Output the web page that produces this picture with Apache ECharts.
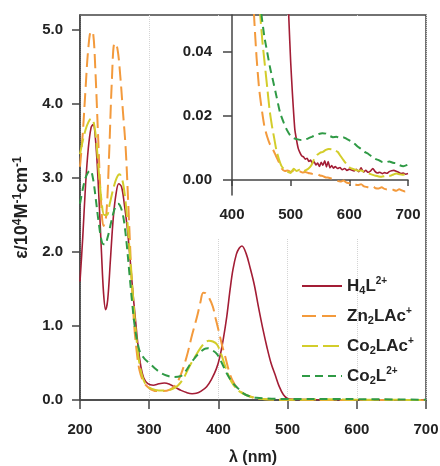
<!DOCTYPE html>
<html>
<head>
<meta charset="utf-8">
<script src="https://cdn.jsdelivr.net/npm/echarts@6/dist/echarts.min.js"></script>
<style>
  html, body { margin: 0; padding: 0; background: #fff; }
  #chart { width: 440px; height: 466px; }
</style>
</head>
<body>
<div id="chart"></div>
<script>
// series names (legend order)
var names = ["H4L2+", "Zn2LAc+", "Co2LAc+", "Co2L2+"];
var legendLabels = [
  "{b|H}{sub|4}{b|L}{sup|2+}",
  "{b|Zn}{sub|2}{b|LAc}{sup|+}",
  "{b|Co}{sub|2}{b|LAc}{sup|+}",
  "{b|Co}{sub|2}{b|L}{sup|2+}"
];

// main panel: [wavelength nm, eps / 1e4]
var h4lMain = [[200,1.6],[204,2.2],[208,2.9],[212,3.4],[216,3.68],[219,3.72],[223,3.45],[227,2.8],[231,2.0],[234,1.45],[237,1.22],[240,1.35],[244,1.9],[248,2.45],[252,2.78],[256,2.92],[260,2.88],[264,2.65],[268,2.35],[272,1.95],[276,1.5],[280,1.1],[284,0.72],[288,0.45],[292,0.3],[298,0.22],[306,0.2],[314,0.22],[322,0.23],[330,0.21],[338,0.17],[346,0.13],[354,0.1],[362,0.085],[368,0.09],[375,0.12],[383,0.18],[390,0.28],[397,0.42],[402,0.58],[407,0.82],[412,1.12],[417,1.5],[421,1.76],[426,1.97],[430,2.05],[434,2.08],[440,1.98],[446,1.78],[452,1.55],[458,1.25],[464,0.97],[470,0.72],[476,0.5],[482,0.34],[488,0.18],[494,0.07],[500,0.02],[510,0.01],[540,0.005],[620,0.003],[700,0.002]];
var zn2Main = [[200,3.15],[204,3.6],[208,4.2],[212,4.75],[216,4.98],[219,4.95],[222,4.5],[226,3.6],[230,2.75],[234,2.35],[238,2.5],[242,3.3],[246,4.3],[250,4.82],[254,4.75],[258,4.4],[262,3.9],[266,3.4],[270,2.6],[274,1.75],[278,1.05],[282,0.65],[286,0.4],[292,0.24],[300,0.16],[310,0.12],[320,0.12],[330,0.14],[338,0.2],[346,0.35],[354,0.58],[362,0.88],[369,1.12],[374,1.32],[378,1.45],[382,1.44],[387,1.37],[392,1.26],[396,1.1],[400,0.95],[405,0.75],[410,0.58],[415,0.4],[420,0.27],[428,0.15],[436,0.09],[445,0.05],[455,0.025],[470,0.01],[500,0.003],[600,0.0],[700,-0.003]];
var co2lacMain = [[200,3.32],[204,3.5],[208,3.65],[212,3.75],[216,3.8],[219,3.78],[223,3.55],[227,3.1],[231,2.7],[235,2.5],[239,2.5],[243,2.65],[248,2.85],[253,3.0],[257,3.05],[261,2.98],[265,2.75],[269,2.35],[273,1.85],[277,1.35],[281,0.9],[285,0.55],[290,0.32],[296,0.2],[304,0.15],[314,0.13],[324,0.13],[334,0.15],[342,0.2],[350,0.3],[358,0.45],[366,0.58],[374,0.7],[380,0.77],[386,0.8],[392,0.79],[398,0.75],[404,0.62],[410,0.45],[416,0.3],[422,0.2],[430,0.12],[440,0.065],[450,0.035],[460,0.018],[475,0.008],[500,0.003],[560,0.009],[600,0.003],[700,0.0015]];
var co2lMain = [[200,2.65],[204,2.85],[208,3.0],[212,3.08],[215,3.1],[219,2.98],[223,2.7],[227,2.4],[232,2.12],[236,2.1],[240,2.2],[245,2.4],[250,2.58],[255,2.65],[259,2.6],[263,2.45],[267,2.15],[271,1.75],[275,1.35],[279,1.0],[283,0.78],[287,0.64],[293,0.56],[300,0.5],[308,0.43],[316,0.37],[325,0.33],[335,0.31],[345,0.32],[352,0.38],[359,0.48],[366,0.57],[373,0.64],[380,0.69],[385,0.7],[390,0.68],[398,0.62],[405,0.5],[412,0.36],[420,0.24],[428,0.16],[436,0.09],[445,0.05],[455,0.03],[470,0.02],[490,0.014],[520,0.0125],[560,0.014],[620,0.01],[700,0.004]];

// inset panel: [wavelength nm, eps / 1e4]
var h4lInset = [[494,0.065],[497,0.05],[500,0.037],[503,0.027],[507,0.016],[510,0.0125],[513,0.0098],[516,0.0085],[519,0.0075],[522,0.0072],[525,0.0065],[528,0.0068],[531,0.0058],[534,0.0062],[537,0.0052],[540,0.0057],[543,0.0047],[546,0.0053],[549,0.0042],[552,0.0055],[555,0.0046],[558,0.006],[561,0.0041],[564,0.0058],[567,0.0038],[570,0.0045],[573,0.0037],[576,0.0042],[580,0.0036],[584,0.0039],[588,0.0032],[592,0.0036],[596,0.003],[600,0.0034],[604,0.0031],[608,0.0028],[612,0.0033],[616,0.0026],[620,0.0038],[624,0.0025],[628,0.003],[632,0.0024],[636,0.0028],[640,0.0036],[644,0.0026],[648,0.0022],[652,0.0024],[656,0.002],[660,0.0023],[664,0.0021],[668,0.0026],[672,0.0029],[676,0.003],[680,0.0027],[684,0.0024],[688,0.002],[692,0.0022],[696,0.0018],[700,0.002]];
var zn2Inset = [[430,0.09],[434,0.065],[438,0.05],[442,0.038],[446,0.029],[450,0.023],[455,0.017],[460,0.0135],[465,0.011],[470,0.0095],[475,0.0075],[480,0.0055],[485,0.0035],[490,0.0028],[495,0.003],[500,0.0026],[505,0.0028],[510,0.0024],[515,0.0027],[520,0.0023],[525,0.0025],[530,0.0022],[535,0.002],[540,0.0017],[545,0.0019],[550,0.0014],[555,0.0012],[560,0.0008],[565,0.0007],[570,0.0004],[575,0.0002],[580,-0.0003],[585,-0.0005],[590,-0.0002],[595,-0.0008],[600,-0.001],[605,-0.0007],[610,-0.0014],[615,-0.0016],[620,-0.0013],[625,-0.002],[630,-0.0022],[635,-0.0024],[640,-0.002],[645,-0.0026],[650,-0.0027],[655,-0.0023],[660,-0.0028],[665,-0.003],[670,-0.0027],[675,-0.0031],[680,-0.0034],[685,-0.0029],[690,-0.0033],[695,-0.0036],[700,-0.0035]];
var co2lacInset = [[440,0.08],[444,0.065],[448,0.052],[452,0.043],[456,0.036],[460,0.029],[464,0.022],[468,0.017],[472,0.013],[476,0.009],[480,0.0065],[484,0.0045],[488,0.0035],[492,0.0028],[496,0.0025],[500,0.0022],[505,0.0035],[510,0.0028],[515,0.0032],[520,0.0026],[525,0.003],[530,0.0035],[535,0.0045],[540,0.0065],[545,0.0078],[550,0.0085],[555,0.0088],[560,0.0094],[565,0.0097],[570,0.0096],[575,0.0093],[580,0.0088],[585,0.0075],[590,0.0062],[595,0.005],[600,0.004],[605,0.0035],[610,0.0032],[615,0.0029],[620,0.003],[625,0.0026],[630,0.0022],[635,0.0019],[640,0.0016],[645,0.0013],[650,0.0011],[655,0.001],[660,0.0012],[665,0.0014],[670,0.0013],[675,0.0017],[680,0.002],[685,0.0018],[690,0.0016],[695,0.0017],[700,0.0015]];
var co2lInset = [[445,0.06],[450,0.052],[455,0.045],[460,0.04],[465,0.035],[470,0.031],[476,0.026],[482,0.021],[488,0.018],[494,0.0155],[500,0.0137],[506,0.013],[512,0.0127],[518,0.0125],[524,0.0126],[530,0.013],[536,0.0135],[542,0.014],[548,0.0144],[554,0.0146],[560,0.0145],[566,0.0138],[572,0.0134],[578,0.0135],[584,0.0131],[590,0.0133],[596,0.0128],[602,0.0122],[608,0.0115],[614,0.0105],[620,0.0097],[626,0.0088],[632,0.0082],[638,0.0074],[644,0.0066],[650,0.0062],[656,0.0056],[662,0.0055],[668,0.0058],[674,0.0054],[680,0.0052],[686,0.0046],[692,0.0043],[700,0.0048]];

// ticks
var mainYTicks = [0, 1, 2, 3, 4, 5];
var insetYTicks = [0, 0.02, 0.04];

var colors = ["#a31d35", "#f39a3c", "#d3cd2b", "#2f9a45"];
var dashes = ["solid", [14, 6], [16, 5], [8, 5]];
var widths = [1.6, 2, 2, 2];
var mainData = [h4lMain, zn2Main, co2lacMain, co2lMain];
var insetData = [h4lInset, zn2Inset, co2lacInset, co2lInset];

var font = "Liberation Sans";
var axisColor = "#444";

var series = [];
// main curves
for (var i = 0; i < 4; i++) {
  series.push({
    name: names[i],
    type: "line",
    xAxisIndex: 0,
    yAxisIndex: 0,
    data: mainData[i],
    smooth: 0.35,
    symbol: "none",
    lineStyle: { color: colors[i], width: widths[i], type: dashes[i] },
    itemStyle: { color: colors[i] }
  });
}
// inset curves
for (var j = 0; j < 4; j++) {
  series.push({
    name: names[j],
    type: "line",
    xAxisIndex: 1,
    yAxisIndex: 1,
    z: 10,
    data: insetData[j],
    smooth: 0.2,
    symbol: "none",
    lineStyle: { color: colors[j], width: widths[j], type: dashes[j] },
    itemStyle: { color: colors[j] }
  });
}

var supStyle = { fontSize: 10, fontWeight: "bold", fontFamily: font, color: "#222", verticalAlign: "top", lineHeight: 20 };
var subStyle = { fontSize: 11, fontWeight: "bold", fontFamily: font, color: "#222", verticalAlign: "bottom", lineHeight: 20 };

var chart = echarts.init(document.getElementById("chart"));
var option = {
  animation: false,
  backgroundColor: "#fff",
  textStyle: { fontFamily: font },
  grid: [
    { left: 80, right: 14, top: 15, bottom: 66, outerBoundsMode: "none", show: true, borderColor: axisColor, borderWidth: 1.5, backgroundColor: "transparent" },
    { left: 232, right: 32, top: 15, bottom: 271, outerBoundsMode: "none" }
  ],
  graphic: {
    elements: [
      {
        type: "rect",
        z: 5,
        shape: { x: 166, y: 16.5, width: 258.5, height: 222 },
        style: { fill: "#fff" },
        silent: true
      }
    ]
  },
  legend: {
    orient: "vertical",
    left: 296,
    top: 271,
    itemWidth: 40,
    itemHeight: 14,
    itemGap: 10,
    data: names,
    itemStyle: { opacity: 0 },
    formatter: function (name) {
      return legendLabels[names.indexOf(name)];
    },
    textStyle: {
      color: "#222",
      fontSize: 17,
      fontWeight: "bold",
      fontFamily: font,
      lineHeight: 20,
      rich: {
        b: { fontSize: 17, fontWeight: "bold", fontFamily: font, color: "#222", lineHeight: 20 },
        sub: subStyle,
        sup: supStyle
      }
    }
  },
  xAxis: [
    {
      type: "value",
      gridIndex: 0,
      min: 200,
      max: 700,
      interval: 100,
      name: "λ (nm)",
      nameLocation: "middle",
      nameGap: 50,
      nameTextStyle: { fontSize: 16, fontWeight: "bold", color: "#222", fontFamily: font },
      axisLine: { lineStyle: { color: axisColor, width: 1.5 } },
      axisTick: { length: 9, lineStyle: { color: axisColor, width: 1.5 } },
      axisLabel: { fontSize: 15, fontWeight: "bold", color: "#222", margin: 22 },
      splitLine: { show: true, lineStyle: { color: "#d4d4d4", type: "dotted", width: 1 } }
    },
    {
      type: "value",
      gridIndex: 1,
      min: 400,
      max: 700,
      interval: 100,
      z: 10,
      axisLine: { lineStyle: { color: axisColor, width: 1.5 } },
      axisTick: { length: 6, lineStyle: { color: axisColor, width: 1.5 } },
      axisLabel: { fontSize: 15, fontWeight: "bold", color: "#222", margin: 12 },
      splitLine: { show: false }
    }
  ],
  yAxis: [
    {
      type: "value",
      gridIndex: 0,
      min: 0,
      max: 5.2,
      name: "{t|ε/10}{sup|4}{t|M}{sup|-1}{t|cm}{sup|-1}",
      nameLocation: "middle",
      nameGap: 40,
      nameTextStyle: {
        rich: {
          t: { fontSize: 18, fontWeight: "bold", color: "#222", fontFamily: font, lineHeight: 22 },
          sup: { fontSize: 12, fontWeight: "bold", fontFamily: font, color: "#222", verticalAlign: "top", lineHeight: 22 }
        }
      },
      axisLine: { show: true, lineStyle: { color: axisColor, width: 1.5 } },
      axisTick: { show: true, length: 8, customValues: mainYTicks, lineStyle: { color: axisColor, width: 1.5 } },
      axisLabel: {
        fontSize: 15, fontWeight: "bold", color: "#222", margin: 17,
        customValues: mainYTicks,
        formatter: function (v) { return v.toFixed(1); }
      },
      splitLine: { show: false }
    },
    {
      type: "value",
      gridIndex: 1,
      min: -0.0047,
      max: 0.0516,
      z: 10,
      axisLine: { show: true, lineStyle: { color: axisColor, width: 1.5 } },
      axisTick: { show: true, length: 9, customValues: insetYTicks, lineStyle: { color: axisColor, width: 1.5 } },
      axisLabel: {
        fontSize: 15, fontWeight: "bold", color: "#222", margin: 20,
        customValues: insetYTicks,
        formatter: function (v) { return v.toFixed(2); }
      },
      splitLine: { show: false }
    }
  ],
  series: series
};
chart.setOption(option);
</script>
</body>
</html>
